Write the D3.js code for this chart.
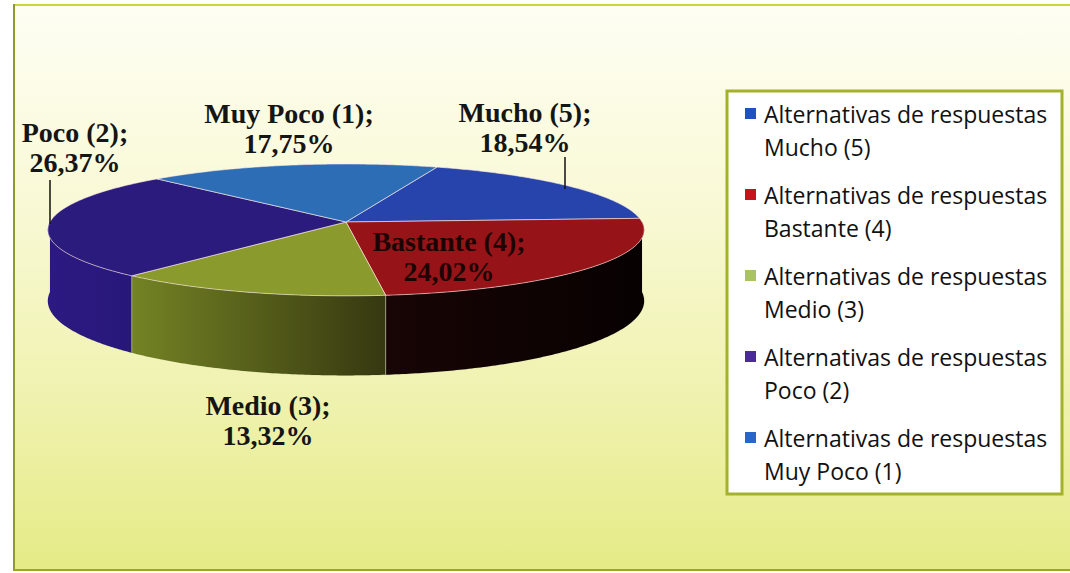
<!DOCTYPE html>
<html>
<head>
<meta charset="utf-8">
<script src="https://cdn.jsdelivr.net/npm/d3@7"></script>
<style>
  html, body { margin: 0; padding: 0; background: #fff; }
  svg { display: block; }
</style>
</head>
<body>
<div id="chart"></div>
<script>
// data, in the order Excel stored it (legend order)
const categories = ["Mucho (5)", "Bastante (4)", "Medio (3)", "Poco (2)", "Muy Poco (1)"]
const values = [18.54, 24.02, 13.32, 26.37, 17.75]
const legendPrefix = "Alternativas de respuestas"

// colours per slice: top face, wall, legend key
const topColors = ["#2644ab", "#961418", "#8b9a2c", "#2b1b7d", "#2d6db5"]
const wallColors = [["#1c3490", "#14286e"], ["#180505", "#070101"], ["#748324", "#363810"], ["#2c1a82", "#28177a"], ["#24589a", "#1d4a84"]]
const keyColors = ["#1f52c0", "#c8121c", "#a9c264", "#4b2b98", "#2a66c6"]

// label layout: centre x and first baseline
const labelPos = [
  {x: 525, y: 122, color: "#151515"},
  {x: 449, y: 251, color: "#1c0404"},
  {x: 268, y: 415, color: "#151515"},
  {x: 75,  y: 142, color: "#151515"},
  {x: 289, y: 123, color: "#151515"}
]
const leaders = [
  {x: 565, y1: 157, y2: 189},
  {x: 50,  y1: 180, y2: 224}
]

const width = 1070
const height = 573

// 3d pie geometry
const cx = 346, cy = 222
const R = 296, RY = 65, D = 70, P = 0.12
const firstAngle = 20 * Math.PI / 180

const fmt = d3.formatLocale({decimal: ",", thousands: ".", grouping: [3], currency: ["", ""]}).format(".2f")

const svg = d3.select("#chart")
  .append("svg")
    .attr("width", width)
    .attr("height", height)

const defs = svg.append("defs")

var bg = defs.append("linearGradient")
    .attr("id", "bg")
    .attr("x1", 0).attr("y1", 0).attr("x2", 0).attr("y2", 1)
bg.append("stop").attr("offset", "0%").attr("stop-color", "#fefef4")
bg.append("stop").attr("offset", "35%").attr("stop-color", "#f9f9d6")
bg.append("stop").attr("offset", "70%").attr("stop-color", "#eff2ae")
bg.append("stop").attr("offset", "100%").attr("stop-color", "#e5eb86")

wallColors.forEach((c, i) => {
  let g = defs.append("linearGradient")
      .attr("id", "wall" + i)
      .attr("x1", 0).attr("y1", 0).attr("x2", 1).attr("y2", 0)
  g.append("stop").attr("offset", "0%").attr("stop-color", c[0])
  g.append("stop").attr("offset", "100%").attr("stop-color", c[1])
})

// background + frame
svg.append("rect")
    .attr("x", 14).attr("y", 5)
    .attr("width", width + 10).attr("height", 565)
    .attr("fill", "url(#bg)")
svg.append("line")
    .attr("x1", 14).attr("x2", width).attr("y1", 5).attr("y2", 5)
    .attr("stroke", "#cdd43c").attr("stroke-width", 2)
svg.append("line")
    .attr("x1", 14).attr("x2", 14).attr("y1", 4).attr("y2", 571)
    .attr("stroke", "#8c9a2e").attr("stroke-width", 2)
svg.append("line")
    .attr("x1", 14).attr("x2", width).attr("y1", 570).attr("y2", 570)
    .attr("stroke", "#9aa82a").attr("stroke-width", 2)

// projection of an angle on the disc (d3 angle, clockwise from north)
function proj(a, k) {
  let u = Math.sin(a), v = -Math.cos(a)
  let s = 1 / (1 - P * v)
  return [cx + R * u * s, cy + RY * v * s + k * D * s]
}

function arcPoints(a0, a1, k) {
  let n = Math.max(2, Math.ceil(Math.abs(a1 - a0) / 0.01))
  return d3.range(n + 1).map(i => proj(a0 + (a1 - a0) * i / n, k))
}

const line = d3.line()

const pie = d3.pie()
    .sort(null)
    .value(d => d)
    .startAngle(firstAngle)
    .endAngle(firstAngle + 2 * Math.PI)

const arcs = pie(values)

const g = svg.append("g")

// walls, only the front half shows
arcs.forEach((d, i) => {
  let a0 = Math.max(d.startAngle, Math.PI / 2)
  let a1 = Math.min(d.endAngle, 3 * Math.PI / 2)
  if (a1 <= a0) return
  let pts = arcPoints(a0, a1, 0).concat(arcPoints(a1, a0, 1))
  g.append("path")
      .attr("class", "wall")
      .attr("d", line(pts) + "Z")
      .attr("fill", "url(#wall" + i + ")")
      .attr("stroke", "rgba(0,0,0,0.15)")
      .attr("stroke-width", 0.5)
})

// wall dividers (light seam where slices meet on the side)
arcs.forEach(d => {
  let a = d.startAngle > 2 * Math.PI ? d.startAngle - 2 * Math.PI : d.startAngle
  if (a <= Math.PI / 2 || a >= 3 * Math.PI / 2) return
  let p0 = proj(a, 0), p1 = proj(a, 1)
  g.append("line")
      .attr("x1", p0[0]).attr("y1", p0[1])
      .attr("x2", p1[0]).attr("y2", p1[1])
      .attr("stroke", "rgba(255,255,255,0.45)")
      .attr("stroke-width", 1)
})

// top faces
g.selectAll("path.top")
  .data(arcs)
  .enter()
  .append("path")
    .attr("class", "top")
    .attr("d", d => line([[cx, cy]].concat(arcPoints(d.startAngle, d.endAngle, 0))) + "Z")
    .attr("fill", (d, i) => topColors[i])
    .attr("stroke", "rgba(255,235,235,0.6)")
    .attr("stroke-width", 1)

// leader lines
svg.selectAll("line.leader")
  .data(leaders)
  .enter()
  .append("line")
    .attr("class", "leader")
    .attr("x1", d => d.x).attr("x2", d => d.x)
    .attr("y1", d => d.y1).attr("y2", d => d.y2)
    .attr("stroke", "#111")
    .attr("stroke-width", 1.5)

// data labels
var labels = svg.selectAll("text.lbl")
  .data(arcs)
  .enter()
  .append("text")
    .attr("class", "lbl")
    .attr("text-anchor", "middle")
    .attr("font-family", "'Liberation Serif', 'Times New Roman', serif")
    .attr("font-weight", "bold")
    .attr("font-size", 28)
    .attr("fill", (d, i) => labelPos[i].color)

labels.append("tspan")
    .attr("x", (d, i) => labelPos[i].x)
    .attr("y", (d, i) => labelPos[i].y)
    .text((d, i) => categories[i] + ";")
labels.append("tspan")
    .attr("x", (d, i) => labelPos[i].x)
    .attr("y", (d, i) => labelPos[i].y + 30)
    .text(d => fmt(d.data) + "%")

// legend
const legend = svg.append("g")

legend.append("rect")
    .attr("x", 727).attr("y", 91)
    .attr("width", 335).attr("height", 403)
    .attr("fill", "#ffffff")
    .attr("stroke", "#a3b22a")
    .attr("stroke-width", 3)

var items = legend.selectAll("g.item")
  .data(categories)
  .enter()
  .append("g")
    .attr("class", "item")
    .attr("transform", (d, i) => "translate(0," + (i * 81) + ")")

items.append("rect")
    .attr("x", 745).attr("y", 108)
    .attr("width", 11).attr("height", 11)
    .attr("fill", (d, i) => keyColors[i])

var itemText = items.append("text")
    .attr("font-family", "'Open Sans', 'Noto Sans', sans-serif")
    .attr("font-size", 23)
    .attr("fill", "#111")

itemText.append("tspan")
    .attr("x", 764).attr("y", 123)
    .text(legendPrefix)
itemText.append("tspan")
    .attr("x", 764).attr("y", 156)
    .text(d => d)
</script>
</body>
</html>
